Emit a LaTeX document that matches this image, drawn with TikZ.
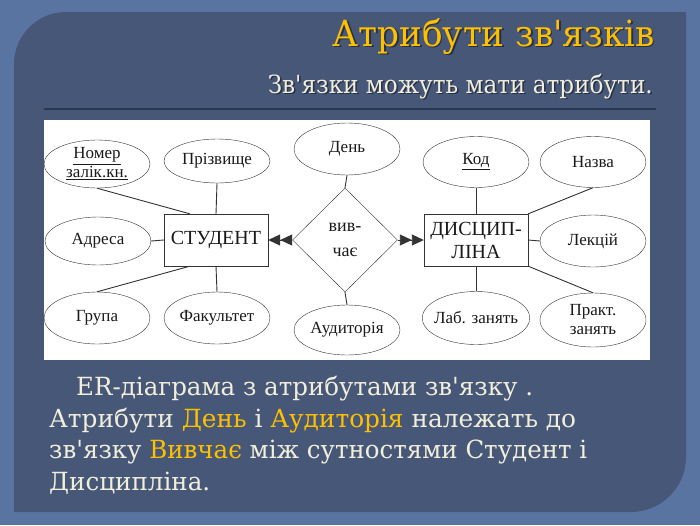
\documentclass[tikz,border=0pt]{standalone}
\usepackage{fontspec}
\usepackage{graphicx}
\usepackage{xcolor}
\setmainfont{Liberation Serif}
\newfontfamily\slidefont{DejaVu Serif}
\usetikzlibrary{shapes.geometric,arrows.meta,calc}

\definecolor{outerbg}{HTML}{5A74A2}
\definecolor{panelbg}{HTML}{465777}
\definecolor{gold}{HTML}{FFC000}
\definecolor{cream}{HTML}{F2EEDC}
\definecolor{rulecol}{HTML}{2B3650}
\definecolor{shadowcol}{HTML}{263048}
\definecolor{erline}{HTML}{333333}
\definecolor{ertext}{HTML}{1A1A1A}
\newcommand{\apos}{\textquotesingle}
\newcommand{\fitw}[2]{\resizebox{#1}{\height}{#2}}

\begin{document}
\begin{tikzpicture}[x=1pt,y=-1pt,
  attr/.style={ellipse, draw=erline, minimum width=106pt, minimum height=50pt, inner sep=-4pt, align=center, text=ertext, font=\fontsize{17}{19}\selectfont},
  entity/.style={rectangle, draw=erline, minimum width=104pt, minimum height=52pt, inner sep=0pt, align=center, text=ertext, font=\fontsize{20}{23}\selectfont},
  relation/.style={diamond, draw=erline, minimum width=105pt, minimum height=104pt, inner sep=0pt, align=center, text=ertext, font=\fontsize{18}{25}\selectfont},
  link/.style={draw=erline, line width=0.9pt},
  tip/.style={-{Triangle[length=12pt,width=11pt]Triangle[length=12pt,width=11pt]}},
  headline/.style={anchor=base east, inner sep=0pt, font=\slidefont\fontsize{#1}{40}\selectfont},
  body/.style={anchor=base west, inner sep=0pt, text=cream, font=\slidefont\fontsize{25}{30}\selectfont}]

  % Background and panel
  \fill[outerbg] (0,0) rectangle (700,525);
  \fill[panelbg] (14,512) -- (14,64) .. controls (14,35.4) and (37.4,12) .. (66,12)
    -- (686,12) -- (686,457) .. controls (686,487.25) and (661.25,512) .. (631,512) -- cycle;

  % Title and subtitle (with shadow)
  \node[headline=36, text=shadowcol] (titleshadow) at (656.5,47.5) {\fitw{322pt}{Атрибути зв\apos язків}};
  \node[headline=36, text=gold] (title) at (655,46) {\fitw{322pt}{Атрибути зв\apos язків}};
  \node[headline=25, text=shadowcol] (subshadow) at (654.5,94.5) {\fitw{385pt}{Зв\apos язки можуть мати атрибути.}};
  \node[headline=25, text=cream] (subtitle) at (653,93) {\fitw{385pt}{Зв\apos язки можуть мати атрибути.}};
  \draw[rulecol, line width=2pt] (44,109) -- (656,109);

  % Diagram area
  \fill[white] (44,120) rectangle (650,360);

  \node[entity] (stud) at (216,240) {СТУДЕНТ};
  \node[entity] (disc) at (476,240) {ДИСЦИП-\\ЛІНА};
  \node[relation] (rel) at (345,240) {вив-\\чає};

  \node[attr, minimum height=48pt] (num) at (97,164) {\underline{Номер}\\\underline{залік.кн.}};
  \node[attr, minimum height=44pt] (surname) at (217,161) {Прізвище};
  \node[attr, minimum height=48pt] (addr) at (98,241) {Адреса};
  \node[attr, minimum height=52pt] (grp) at (97,318) {Група};
  \node[attr, minimum height=52pt] (fac) at (217,318) {Факультет};
  \node[attr, minimum height=52pt] (day) at (347,149) {День};
  \node[attr] (room) at (347,330) {Аудиторія};
  \node[attr, minimum height=51pt] (code) at (476,162) {\underline{Код}};
  \node[attr, minimum height=51pt] (title2) at (593,162) {Назва};
  \node[attr, minimum height=52pt] (lect) at (593,241) {Лекцій};
  \node[attr, minimum height=53pt] (lab) at (476,318) {Лаб. занять};
  \node[attr, minimum height=54pt] (prac) at (593,320) {Практ.\\занять};

  \coordinate (studtop) at ($(stud.north west)+(26,0)$);
  \coordinate (studbot) at ($(stud.south west)+(26,0)$);

  % Attribute links
  \draw[link] (num.south) -- (studtop);
  \draw[link] (surname.south) -- (stud.north);
  \draw[link] (addr.east) -- (stud.west);
  \draw[link] (grp.north) -- (studbot);
  \draw[link] (fac.north) -- (stud.south);
  \draw[link] (day.south) -- (rel.north);
  \draw[link] (room.north) -- (rel.south);
  \draw[link] (code.south) -- (disc.north);
  \draw[link] (disc.north east) -- (title2.south);
  \draw[link] (lect.west) -- (disc.east);
  \draw[link] (lab.north) -- (disc.south);
  \draw[link] (disc.south east) -- (prac.north);

  % Relationship arrows
  \draw[link, tip, fill=black] (rel.west) -- (stud.east);
  \draw[link, tip, fill=black] (rel.east) -- (disc.west);

  % Caption
  \node[body] (line1) at (76,395) {\fitw{457pt}{ER-діаграма з атрибутами зв\apos язку .}};
  \node[body] (line2) at (49,427) {\fitw{527pt}{Атрибути \textcolor{gold}{День} і \textcolor{gold}{Аудиторія} належать до}};
  \node[body] (line3) at (49,458) {\fitw{538pt}{зв\apos язку \textcolor{gold}{Вивчає} між сутностями Студент і}};
  \node[body] (line4) at (49,490) {\fitw{161pt}{Дисципліна.}};
\end{tikzpicture}
\end{document}
